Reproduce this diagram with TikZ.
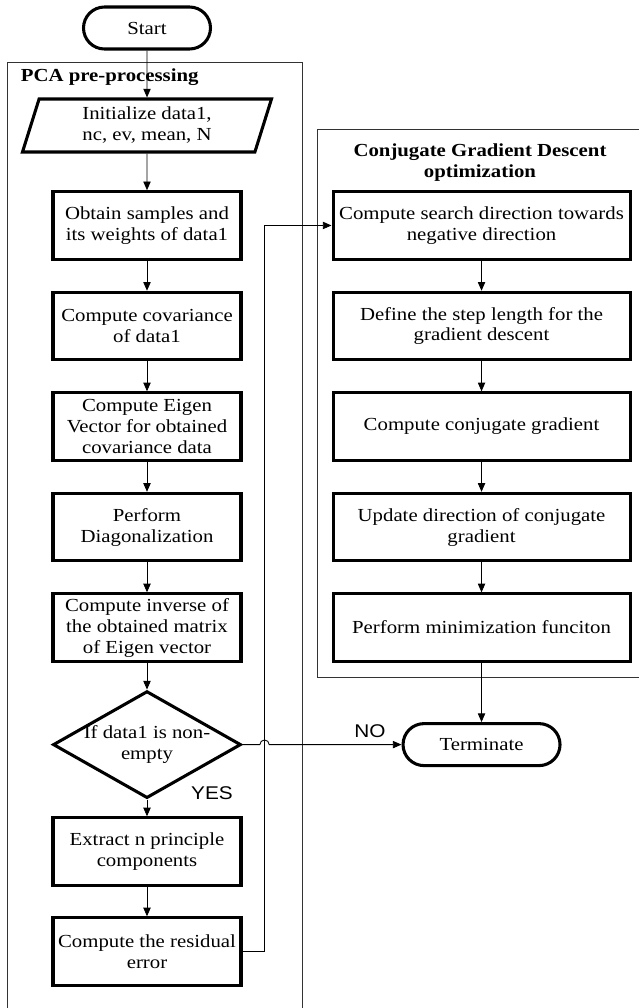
\documentclass[tikz,border=0pt]{standalone}
\usepackage{fontspec}
\setmainfont{Liberation Serif}[FakeStretch=1.13]
\newfontfamily\labelfont{Liberation Sans}[FakeStretch=1.13]
\usetikzlibrary{arrows.meta,shapes.geometric,calc}
\newcommand\flowsize{\fontsize{13.8}{15.75}\selectfont}

\begin{document}
\begin{tikzpicture}[font=\flowsize, line width=0.65pt,
  proc/.style = {draw, line width=2.3pt, minimum width=141pt, minimum height=50.6pt, align=center, inner sep=1pt},
  wide/.style = {proc, minimum width=222.75pt},
  term/.style = {draw, line width=2.3pt, rounded corners=15.75pt, minimum height=31.5pt},
  io/.style = {draw, line width=2.3pt, trapezium, trapezium left angle=65.6, trapezium right angle=114.4, trapezium stretches body, minimum width=186.75pt, minimum height=39.75pt, align=center, inner sep=0pt},
  decide/.style = {draw, line width=2.3pt, diamond, minimum width=141pt, minimum height=80.25pt, inner sep=0pt},
  frame/.style = {draw=black!80, line width=0.65pt},
  >={Triangle[length=6.5pt,width=5.5pt]}, node distance=75.4pt]
        \useasboundingbox (0,0) rectangle (479.25pt,-756pt);
        % the two group frames
        \draw[frame] (5.25pt,-756pt) -- (5.25pt,-46.5pt) -- (226.5pt,-46.5pt) -- (226.5pt,-756pt);
        \draw[frame] (479.25pt,-96.75pt) -- (237.75pt,-96.75pt) -- (237.75pt,-507.75pt) -- (479.25pt,-507.75pt);
        \node[anchor=base west, font=\flowsize\bfseries] (pcalbl) at (12pt,-61.3pt) {PCA pre-processing};
        \node[align=center, font=\flowsize\bfseries] (cgdlbl) at (360pt,-121.9pt) {Conjugate Gradient Descent\\optimization};

        \node[term, minimum width=95.25pt] (start) at (110.25pt,-21pt) {Start};
        \node[io] (init) [below of=start, node distance=73.1pt] {Initialize data1,\\nc, ev, mean, N};
        \node[proc] (p1) [below of=init, node distance=75pt] {Obtain samples and\\its weights of data1};
        \node[proc] (p2) [below of=p1] {Compute covariance\\of data1};
        \node[proc] (p3) [below of=p2] {Compute Eigen\\Vector for obtained\\covariance data};
        \node[proc] (p4) [below of=p3] {Perform\\Diagonalization};
        \node[proc] (p5) [below of=p4] {Compute inverse of\\the obtained matrix\\of Eigen vector};
        \node[decide, label={[align=center]center:If data1 is non-\\empty}] (dec) [below of=p5, node distance=87.75pt] {};
        \node[proc] (p6) [below of=dec, node distance=80.25pt] {Extract n principle\\components};
        \node[proc] (p7) [below of=p6, node distance=75pt] {Compute the residual\\error};

        \node[wide] (c1) [right of=p1, node distance=250.9pt] {Compute search direction towards\\negative direction};
        \node[wide] (c2) [below of=c1] {Define the step length for the\\gradient descent};
        \node[wide] (c3) [below of=c2] {Compute conjugate gradient};
        \node[wide] (c4) [below of=c3] {Update direction of conjugate\\gradient};
        \node[wide] (c5) [below of=c4] {Perform minimization funciton};
        \node[term, minimum width=117.75pt] (term) [below of=c5, node distance=87.75pt] {Terminate};

        \node[font=\labelfont\flowsize] (yes) at (159pt,-594.75pt) {YES};
        \node[font=\labelfont\flowsize] (no) at (277.5pt,-548.25pt) {NO};

        \draw[->] (start) -- (init);
        \draw[->] (init) -- (p1);
        \draw[->] (p1) -- (p2);
        \draw[->] (p2) -- (p3);
        \draw[->] (p3) -- (p4);
        \draw[->] (p4) -- (p5);
        \draw[->] (p5) -- (dec);
        \draw[->] (dec) -- (p6);
        \draw[->] (p6) -- (p7);
        \draw[->] (c1) -- (c2);
        \draw[->] (c2) -- (c3);
        \draw[->] (c3) -- (c4);
        \draw[->] (c4) -- (c5);
        \draw[->] (c5) -- (term);
        \coordinate (lp) at ([xshift=16.5pt]p7.east);
        \draw[->] (p7.east) -- (lp) |- (c1.west);
        \draw[->] (dec.east) -- ($(dec.east -| lp)+(-3.5pt,0)$) arc[start angle=180, end angle=0, radius=3.5pt] -- (term.west);
\end{tikzpicture}
\end{document}
